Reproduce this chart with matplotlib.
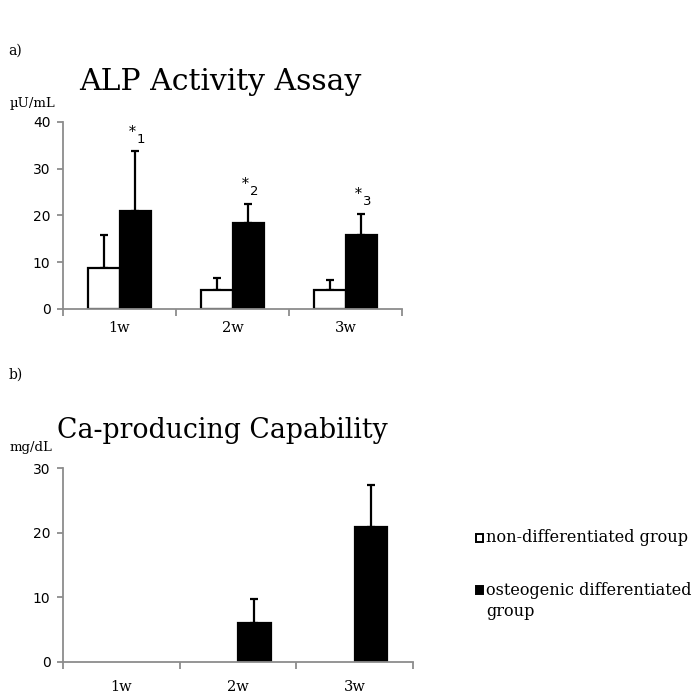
import numpy as np
import matplotlib.pyplot as plt

categories = ['1w', '2w', '3w']
alp_non = [8.8, 4.1, 4.1]
alp_non_err = [7.1, 2.6, 2.2]
alp_ost = [20.9, 18.3, 15.9]
alp_ost_err = [12.8, 4.2, 4.5]
ca_non = [0, 0, 0]
ca_ost = [0, 6.0, 20.8]
ca_ost_err = [0, 3.7, 6.5]
sig_marks = ['1', '2', '3']

serif = 'DejaVu Serif'
spine_col = '#8c8c8c'
bw = 0.28

fig = plt.figure(figsize=(6.94, 6.95), dpi=100)
ax1 = fig.add_axes([0.0908, 0.5554, 0.4885, 0.2691])
ax2 = fig.add_axes([0.0908, 0.0475, 0.5043, 0.2791])


def style(ax, ymax, xpad):
    for s in ['top', 'right']:
        ax.spines[s].set_visible(False)
    for s in ['left', 'bottom']:
        ax.spines[s].set_color(spine_col)
        ax.spines[s].set_linewidth(1.3)
    ax.set_xlim(-0.5, 2.5)
    ax.set_ylim(0, ymax)
    ax.set_yticks(np.arange(0, ymax + 1, 10))
    ax.set_xticks([-0.5, 0.5, 1.5, 2.5])
    ax.set_xticklabels([])
    ax.set_xticks([0, 1, 2], minor=True)
    ax.set_xticklabels(categories, minor=True, fontfamily=serif, fontsize=10.5)
    ax.tick_params(axis='x', which='major', length=5, color=spine_col, width=1.3)
    ax.tick_params(axis='x', which='minor', length=0, pad=xpad)
    ax.tick_params(axis='y', length=4, color=spine_col, width=1.3, labelsize=10, pad=5)


x = np.arange(len(categories))

# a) ALP
ax1.bar(x - bw / 2, alp_non, bw, color='white', edgecolor='black', linewidth=1.6, zorder=2)
ax1.bar(x + bw / 2, alp_ost, bw, color='black', edgecolor='black', linewidth=1.6, zorder=2)
ax1.errorbar(x - bw / 2, alp_non, yerr=[np.zeros(3), alp_non_err], fmt='none',
             ecolor='black', elinewidth=1.6, capsize=3, capthick=1.6, zorder=1)
ax1.errorbar(x + bw / 2, alp_ost, yerr=[np.zeros(3), alp_ost_err], fmt='none',
             ecolor='black', elinewidth=1.6, capsize=3, capthick=1.6, zorder=1)
for i in range(len(categories)):
    top = alp_ost[i] + alp_ost_err[i]
    ax1.annotate('*', (x[i] + bw / 2, top), xytext=(-2, 9), textcoords='offset points',
                 ha='center', va='bottom', fontsize=10, fontfamily=serif)
    ax1.annotate(sig_marks[i], (x[i] + bw / 2, top), xytext=(4, 4), textcoords='offset points',
                 ha='center', va='bottom', fontsize=9.5)
style(ax1, 40, 9)

# b) Ca
lw_non = [1.6 if v > 0 else 0 for v in ca_non]
lw_ost = [1.6 if v > 0 else 0 for v in ca_ost]
ax2.bar(x - bw / 2, ca_non, bw, color='white', edgecolor='black', linewidth=lw_non, zorder=2)
ax2.bar(x + bw / 2, ca_ost, bw, color='black', edgecolor='black', linewidth=lw_ost, zorder=2)
idx = [i for i in range(len(categories)) if ca_ost_err[i] > 0]
ax2.errorbar(x[idx] + bw / 2, [ca_ost[i] for i in idx],
             yerr=[np.zeros(len(idx)), [ca_ost_err[i] for i in idx]], fmt='none',
             ecolor='black', elinewidth=1.6, capsize=3, capthick=1.6, zorder=1)
style(ax2, 30, 13)

# titles and labels
fig.text(0.012, 0.921, 'a)', fontfamily=serif, fontsize=10)
fig.text(0.012, 0.455, 'b)', fontfamily=serif, fontsize=10)
fig.text(0.318, 0.882, 'ALP Activity Assay', fontfamily=serif, fontsize=21.5,
         ha='center', va='center')
fig.text(0.321, 0.381, 'Ca-producing Capability', fontfamily=serif, fontsize=19.3,
         ha='center', va='center')
fig.text(0.014, 0.851, '\u00b5U/mL', fontfamily=serif, fontsize=9.5, va='center')
fig.text(0.014, 0.356, 'mg/dL', fontfamily=serif, fontsize=9.5, va='center')

# legend
fig.patches.append(plt.Rectangle((0.686, 0.220), 0.010, 0.012, transform=fig.transFigure,
                                 facecolor='white', edgecolor='black', linewidth=1.4))
fig.patches.append(plt.Rectangle((0.686, 0.145), 0.010, 0.012, transform=fig.transFigure,
                                 facecolor='black', edgecolor='black', linewidth=1.4))
fig.text(0.701, 0.226, 'non-differentiated group', fontfamily=serif, fontsize=11.6, va='center')
fig.text(0.701, 0.151, 'osteogenic differentiated', fontfamily=serif, fontsize=11.6, va='center')
fig.text(0.701, 0.120, 'group', fontfamily=serif, fontsize=11.6, va='center')

fig.savefig('out.png', dpi=100)
